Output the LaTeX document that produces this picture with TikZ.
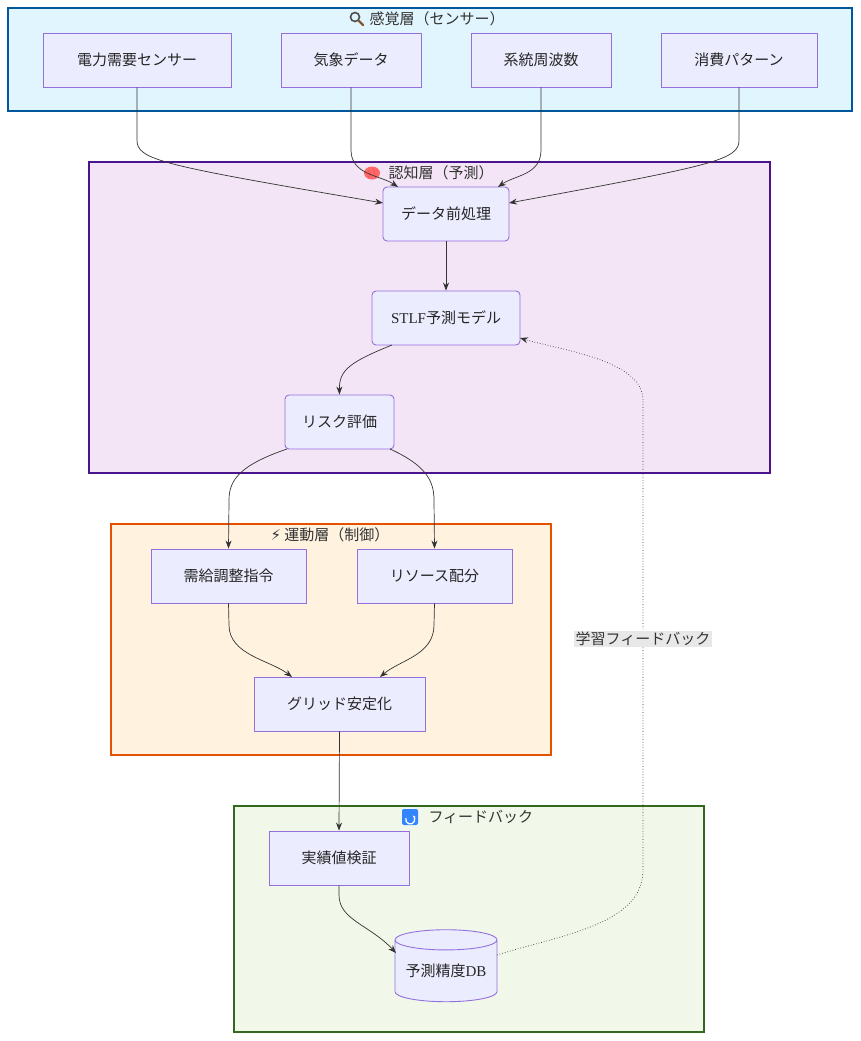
\documentclass[tikz,border=0pt]{standalone}
\usepackage{fontspec}
\setmainfont{Noto Sans CJK JP}
\newfontfamily\lat{Liberation Serif}
\newfontfamily\sym{DejaVu Sans}
\usetikzlibrary{shapes.geometric,arrows.meta}
\begin{document}
\begin{tikzpicture}[x=1pt,y=-1pt,
  box/.style={draw=#1,line width=1.3pt},
  nd/.style={draw={rgb,255:red,147;green,112;blue,219},fill={rgb,255:red,236;green,236;blue,255},line width=0.9pt,font=\fontsize{15}{17}\selectfont,text=black!85,inner sep=0pt},
  ttl/.style={font=\fontsize{15}{17}\selectfont,text=black!80},
  ar/.style={draw=black!80,line width=0.7pt,-{Stealth[length=8pt,width=6pt]}},
  ]
\definecolor{c1f}{HTML}{E1F5FE}\definecolor{c1d}{HTML}{01579B}
\definecolor{c2f}{HTML}{F3E5F5}\definecolor{c2d}{HTML}{4A148C}
\definecolor{c3f}{HTML}{FFF3E0}\definecolor{c3d}{HTML}{E65100}
\definecolor{c4f}{HTML}{F1F8E9}\definecolor{c4d}{HTML}{33691E}
\useasboundingbox[fill=white] (0,0) rectangle (860,1041);
\draw[box=c1d,fill=c1f] (8,8) rectangle (852,111);
\draw[box=c2d,fill=c2f] (89,162) rectangle (770,473);
\draw[box=c3d,fill=c3f] (111,524) rectangle (551,755);
\draw[box=c4d,fill=c4f] (234,806) rectangle (704,1032);
\node[ttl,anchor=west] (t1) at (366,19) {感覚層（センサー）};
\node[ttl,anchor=west] (t2) at (385,173) {認知層（予測）};
\node[ttl] (t3) at (330,535) {{\sym ⚡} 運動層（制御）};
\node[ttl,anchor=west] (t4) at (425,817) {フィードバック};
% emoji drawn as shapes
\draw[line width=1.6pt,black!70] (355,17) circle (4.5);
\draw[line width=2.2pt,brown!70!black,line cap=round] (358.5,20.5) -- (363,25);
\fill[red!45!pink] (372,173) ellipse (8 and 6.5);
\draw[red!60!pink,line width=0.6pt] (368,170) .. controls (371,174) .. (368,177) (373,168) .. controls (375,173) .. (376,178);
\fill[blue!60!cyan!80!white,rounded corners=2pt] (402,809) rectangle (418,825);
\draw[white,line width=1.3pt,-{Stealth[length=3pt]}] (406,818) arc (200:-60:4.5);
\node[nd,minimum width=188,minimum height=54] (s1) at (137,60) {電力需要センサー};
\node[nd,minimum width=140,minimum height=54] (s2) at (351,60) {気象データ};
\node[nd,minimum width=140,minimum height=54] (s3) at (541,60) {系統周波数};
\node[nd,minimum width=156,minimum height=54] (s4) at (739,60) {消費パターン};
\node[nd,rounded corners=4pt,minimum width=126,minimum height=54] (p) at (446,214) {データ前処理};
\node[nd,rounded corners=4pt,minimum width=148,minimum height=54] (m) at (446,318) {{\lat STLF}予測モデル};
\node[nd,rounded corners=4pt,minimum width=109,minimum height=54] (r) at (339.5,422) {リスク評価};
\node[nd,minimum width=155,minimum height=54] (a1) at (228.5,576) {需給調整指令};
\node[nd,minimum width=155,minimum height=54] (a2) at (434.5,576) {リソース配分};
\node[nd,minimum width=171,minimum height=54] (g) at (339.5,704) {グリッド安定化};
\node[nd,minimum width=140,minimum height=54] (v) at (339,858) {実績値検証};
\node[nd,cylinder,shape border rotate=90,aspect=0.25,minimum width=102,minimum height=72] (db) at (446,971) {予測精度{\lat DB}};
\path[ar] (s1.south) -- (137,140) .. controls (137,160) and (160,165) .. (383,203);
\path[ar] (s2.south) -- (351,150) .. controls (351,175) and (380,175) .. (398,187);
\path[ar] (s3.south) -- (541,150) .. controls (541,175) and (515,175) .. (498,187);
\path[ar] (s4.south) -- (739,140) .. controls (739,160) and (715,165) .. (509,203);
\path[ar] (p.south) -- (m.north);
\path[ar] (392,345) .. controls (350,362) and (339,370) .. (r.north);
\path[ar] (287,449) .. controls (240,465) and (229,480) .. (229,500) -- (a1.north);
\path[ar] (390,449) .. controls (425,465) and (434,480) .. (434,500) -- (a2.north);
\path[ar] (a1.south) -- (229,625) .. controls (229,655) and (270,660) .. (292,677);
\path[ar] (a2.south) -- (434,625) .. controls (434,655) and (400,660) .. (380,677);
\path[ar] (g.south) -- (v.north);
\path[ar] (v.south) -- (339,895) .. controls (339,920) and (370,925) .. (396,953);
\draw[black!80,line width=0.7pt,dotted,-{Stealth[length=8pt,width=6pt]}] (497,955) .. controls (560,935) and (643,925) .. (643,870) -- (643,400) .. controls (643,360) and (560,350) .. (520,338);
\node[fill=black!9,inner sep=1.5pt,font=\fontsize{15}{17}\selectfont,text=black!80] (lb) at (643,639) {学習フィードバック};
\end{tikzpicture}
\end{document}
